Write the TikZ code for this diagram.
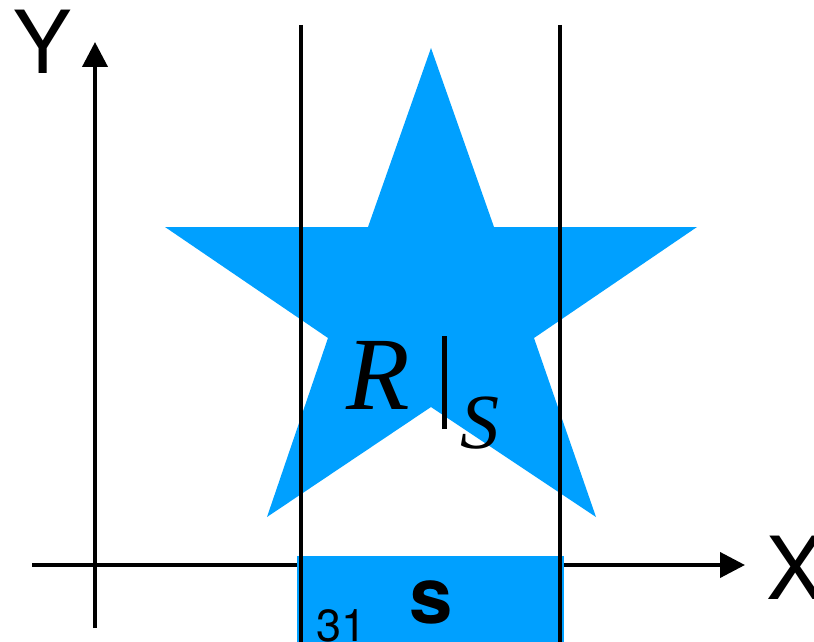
\documentclass[tikz,border=0pt]{standalone}
\usepackage{fontspec}
\setmainfont{TeX Gyre Heros}
\newfontfamily\timesf{Liberation Serif}
\usetikzlibrary{arrows.meta}
\definecolor{starblue}{RGB}{0,160,255}
\begin{document}
\begin{tikzpicture}[x=1pt,y=-1pt,
  axisline/.style={line width=4pt,-{Triangle[length=25pt,width=25pt]}},
  guide/.style={line width=4pt},
  lbl/.style={inner sep=0pt,outer sep=0pt}]
\useasboundingbox (0,0) rectangle (814,642);
% star
\fill[starblue] (431,48) -- (494,227) -- (697,227) -- (534,338) -- (596,517)
  -- (431,407) -- (267,517) -- (328,338) -- (165,227) -- (368,227) -- cycle;
% axes
\coordinate (xs) at (32,565);
\coordinate (xe) at (745,565);
\coordinate (ys) at (95,628);
\coordinate (ye) at (95,42);
\draw[axisline] (xs) -- (xe);
\draw[axisline] (ys) -- (ye);
% segment s
\fill[starblue] (297,556) rectangle (564,642);
% guides
\coordinate (g1t) at (301,25);
\coordinate (g1b) at (301,642);
\coordinate (g2t) at (560,25);
\coordinate (g2b) at (560,642);
\draw[guide] (g1t) -- (g1b);
\draw[guide] (g2t) -- (g2b);
% labels
\node[lbl,anchor=base,font=\fontsize{87}{87}\selectfont] (ylab) at (43,74) {Y};
\node[lbl,anchor=base,font=\fontsize{87}{87}\selectfont] (xlab) at (796,599) {X};
\node[lbl,anchor=base,font=\fontsize{78}{78}\selectfont\bfseries] (slab) at (431,623) {s};
\node[lbl,anchor=base west,font=\fontsize{45}{45}\selectfont] (num) at (316,641) {31};
\node[lbl,anchor=base west] (rs) at (346,409)
  {\fontsize{104}{104}\selectfont\timesf\itshape R\kern32pt\rule[-20pt]{5pt}{93pt}\kern14pt\raisebox{-39pt}{\fontsize{78}{78}\selectfont S}};
\end{tikzpicture}
\end{document}
